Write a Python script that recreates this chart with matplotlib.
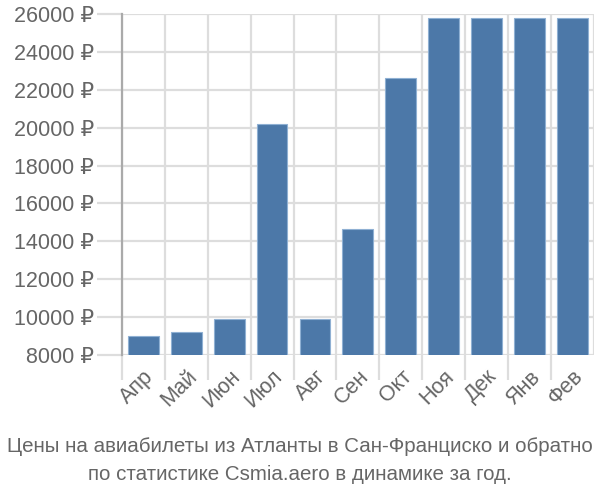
import matplotlib
matplotlib.use("Agg")
import matplotlib.pyplot as plt
import numpy as np

months = ["Апр", "Май", "Июн", "Июл", "Авг", "Сен", "Окт", "Ноя", "Дек", "Янв", "Фев"]
prices = [9000, 9200, 9900, 20200, 9900, 14650, 22600, 25800, 25800, 25800, 25800]
yticks = [8000, 10000, 12000, 14000, 16000, 18000, 20000, 22000, 24000, 26000]

plt.rcParams["font.family"] = ["Liberation Sans", "DejaVu Sans"]
text_color = "#666666"
grid_color = "#dddddd"

fig = plt.figure(figsize=(6, 5), dpi=100)
ax = fig.add_axes([0.203, 0.29, 0.787, 0.682])

x = np.arange(len(months))
ax.bar(x, prices, 0.72, bottom=0, color="#4c78a8", edgecolor="#8fb0d3",
       linewidth=0.8, zorder=3)

ax.set_xlim(-0.5, len(months) - 0.5)
ax.set_ylim(8000, 26000)

ax.set_yticks(yticks)
ax.set_yticklabels([f"{v} ₽" for v in yticks])
ax.set_xticks(x - 0.5, minor=False)
ax.set_xticklabels([""] * len(x))
ax.set_xticks(x, minor=True)
ax.set_xticklabels(months, minor=True, rotation=45, ha="right",
                   rotation_mode="anchor")

ax.grid(True, axis="both", which="major", color=grid_color, linewidth=1.6,
        zorder=0)
ax.set_axisbelow(True)
ax.tick_params(axis="both", which="major", length=18, width=1.6,
               color=grid_color, labelsize=15.5, labelcolor=text_color, pad=2)
ax.tick_params(axis="x", which="minor", length=0, labelsize=15.5,
               labelcolor=text_color, pad=8)
# extra gridline/tick at right edge
ax.axvline(len(months) - 0.5, color=grid_color, linewidth=1.6, zorder=0)

for s in ["top", "right", "bottom"]:
    ax.spines[s].set_visible(False)
ax.spines["left"].set_color("#aaaaaa")
ax.spines["left"].set_linewidth(1.6)
ax.spines["left"].set_bounds(8000, 26000)

fig.text(0.5, 0.106, "Цены на авиабилеты из Атланты в Сан-Франциско и обратно",
         ha="center", va="center", fontsize=14.8, color=text_color)
fig.text(0.5, 0.05, "по статистике Csmia.aero в динамике за год.",
         ha="center", va="center", fontsize=14.8, color=text_color)

plt.savefig("out.png", dpi=100)
